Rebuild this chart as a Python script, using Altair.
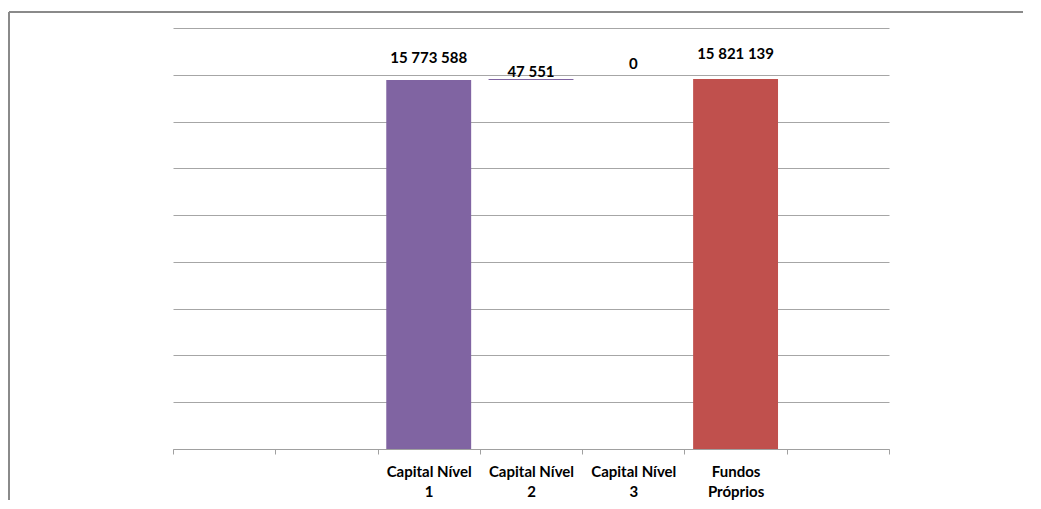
import altair as alt
import pandas as pd

# ---- data ----
categories = ["_1", "_2", "Capital Nível|1", "Capital Nível|2", "Capital Nível|3", "Fundos|Próprios", "_3"]
step_names = ["Capital Nível|1", "Capital Nível|2", "Capital Nível|3"]
step_values = [15773588, 47551, 0]
total_name = "Fundos|Próprios"
total_value = 15821139
y_ticks = [0, 2000000, 4000000, 6000000, 8000000, 10000000, 12000000, 14000000, 16000000, 18000000]

PURPLE = "#8064A2"
RED = "#C0504D"

rows = []
running = 0
for name, v in zip(step_names, step_values):
    rows.append({"cat": name, "lo": running, "hi": running + v, "value": v, "color": PURPLE})
    running += v
rows.append({"cat": total_name, "lo": 0, "hi": total_value, "value": total_value, "color": RED})
df = pd.DataFrame(rows)
df["label"] = df["value"].map(lambda v: f"{v:,}".replace(",", " "))

FONT = "Lato"
xscale = alt.Scale(domain=categories, paddingInner=0, paddingOuter=0)
yscale = alt.Scale(domain=[0, 18000000], nice=False, zero=True)

base = alt.Chart(df)

bars = base.mark_bar(width=alt.RelativeBandSize(0.83)).encode(
    x=alt.X("cat:N", scale=xscale, sort=categories, title=None,
            axis=alt.Axis(
                labelExpr="isString(datum.value) && indexof(datum.value,'_')!=0 ? split(datum.value,'|') : ''",
                labelAngle=0, labelFont=FONT, labelFontSize=15, labelFontWeight="bold",
                labelColor="#000000", labelLineHeight=20, labelPadding=10,
                tickBand="extent", tickSize=5, tickColor="#a0a0a0",
                domainColor="#a0a0a0", labelBaseline="top", grid=False)),
    y=alt.Y("lo:Q", scale=yscale, title=None,
            axis=alt.Axis(values=y_ticks, labels=False, ticks=False, domain=False,
                          grid=True, gridColor="#a6a6a6", gridWidth=1)),
    y2="hi:Q",
    color=alt.Color("color:N", scale=None),
)

label_offsets = {"Capital Nível|1": -14, "Capital Nível|2": 1, "Capital Nível|3": -7, "Fundos|Próprios": -17}
texts = []
for cat, dy in label_offsets.items():
    texts.append(
        base.transform_filter(alt.datum.cat == cat).mark_text(
            font=FONT, fontSize=15, fontWeight="bold", color="#000000",
            baseline="bottom", dy=dy
        ).encode(
            x=alt.X("cat:N", scale=xscale, sort=categories),
            y=alt.Y("hi:Q", scale=yscale),
            text="label:N",
        )
    )

frame_df = pd.DataFrame({"a": [0]})
frame_top = alt.Chart(frame_df).mark_rule(color="#8a8a8a", strokeWidth=2).encode(
    x=alt.value(-164), x2=alt.value(850), y=alt.value(-16))
frame_left = alt.Chart(frame_df).mark_rule(color="#8a8a8a", strokeWidth=2).encode(
    x=alt.value(-164), y=alt.value(-16), y2=alt.value(472))

chart = alt.layer(bars, *texts, frame_top, frame_left).properties(
    width=716, height=421,
    padding={"left": 0, "top": 3, "right": 0, "bottom": 0},
).configure(background="white").configure_view(stroke=None)

chart.save("out.html", embed_options={"renderer": "svg", "actions": False})
